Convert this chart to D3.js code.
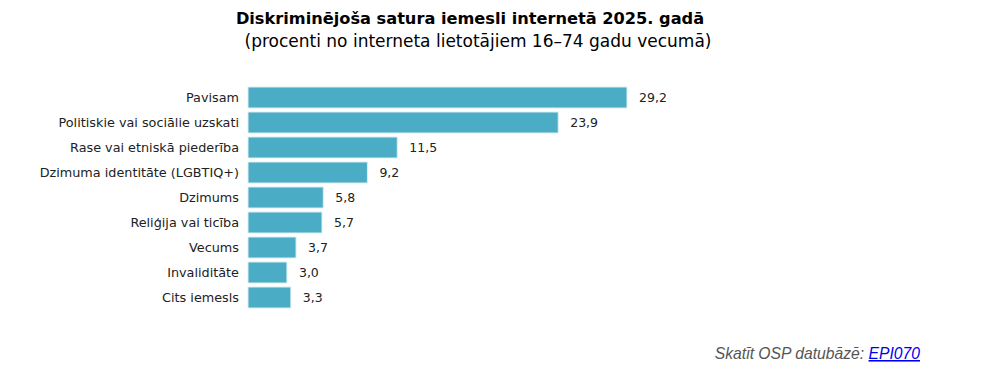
<!DOCTYPE html>
<head>
    <meta charset="utf-8">
    <script src="https://cdn.jsdelivr.net/npm/d3@7"></script>
    <style>
        body { margin: 0; background: #fff; }
    </style>
</head>
<body>
<div id="container"></div>
<script>

    // Data
    const categories = [
        "Pavisam",
        "Politiskie vai sociālie uzskati",
        "Rase vai etniskā piederība",
        "Dzimuma identitāte (LGBTIQ+)",
        "Dzimums",
        "Reliģija vai ticība",
        "Vecums",
        "Invaliditāte",
        "Cits iemesls"
    ];
    const values = [29.2, 23.9, 11.5, 9.2, 5.8, 5.7, 3.7, 3.0, 3.3];

    const titleText = "Diskriminējoša satura iemesli internetā 2025. gadā";
    const subtitleText = "(procenti no interneta lietotājiem 16–74 gadu vecumā)";

    const width = 1000;
    const height = 376;
    const margin = { left: 248, top: 85, bottom: 66 };

    const svg = d3.select("#container")
        .append("svg")
        .attr("width", width)
        .attr("height", height);

    // Scales
    const x = d3.scaleLinear()
        .domain([0, 29.2])
        .range([margin.left, 627]);

    const y = d3.scaleBand()
        .domain(categories)
        .range([margin.top, margin.top + 25 * categories.length])
        .paddingInner(0.16)
        .paddingOuter(0.08);

    // Title
    svg.append("text")
        .attr("x", 470)
        .attr("y", 24)
        .attr("text-anchor", "middle")
        .attr("font-family", "DejaVu Sans, Verdana, sans-serif")
        .attr("font-weight", "bold")
        .attr("font-size", 16.2)
        .attr("fill", "#000")
        .text(titleText);

    svg.append("text")
        .attr("x", 478)
        .attr("y", 47)
        .attr("text-anchor", "middle")
        .attr("font-family", "DejaVu Sans, Verdana, sans-serif")
        .attr("font-size", 17)
        .attr("fill", "#000")
        .text(subtitleText);

    // Bars
    svg.selectAll(".bar")
        .data(values)
        .enter()
        .append("rect")
        .attr("class", "bar")
        .attr("x", x(0))
        .attr("y", (d, i) => y(categories[i]))
        .attr("width", d => x(d) - x(0))
        .attr("height", y.bandwidth())
        .attr("fill", "#4bacc6")
        .attr("stroke", "#dbeef3")
        .attr("stroke-width", 1);

    // Category labels
    svg.selectAll(".cat")
        .data(categories)
        .enter()
        .append("text")
        .attr("class", "cat")
        .attr("x", margin.left - 9)
        .attr("y", d => y(d) + y.bandwidth() / 2)
        .attr("dy", "0.35em")
        .attr("text-anchor", "end")
        .attr("font-family", "DejaVu Sans, Verdana, sans-serif")
        .attr("font-size", 12.8)
        .attr("fill", "#222")
        .text(d => d);

    // Value labels
    const fmt = d3.format(".1f");
    svg.selectAll(".val")
        .data(values)
        .enter()
        .append("text")
        .attr("class", "val")
        .attr("x", d => x(d) + 12)
        .attr("y", (d, i) => y(categories[i]) + y.bandwidth() / 2)
        .attr("dy", "0.35em")
        .attr("font-family", "DejaVu Sans, Verdana, sans-serif")
        .attr("font-size", 12.5)
        .attr("fill", "#222")
        .text(d => fmt(d).replace(".", ","));

    // Footer
    const foot = svg.append("text")
        .attr("x", 920)
        .attr("y", 359)
        .attr("text-anchor", "end")
        .attr("font-family", "Liberation Sans, Arial, sans-serif")
        .attr("font-style", "italic")
        .attr("font-size", 15.7);

    foot.append("tspan")
        .attr("fill", "#555")
        .text("Skatīt OSP datubāzē: ");

    foot.append("tspan")
        .attr("fill", "#0000ee")
        .attr("text-decoration", "underline")
        .text("EPI070");

</script>
</body>
